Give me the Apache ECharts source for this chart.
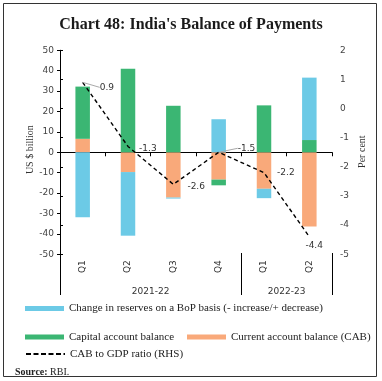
<!DOCTYPE html>
<html>
<head>
<meta charset="utf-8">
<script src="https://cdn.jsdelivr.net/npm/echarts@6/dist/echarts.min.js"></script>
<style>html,body{margin:0;padding:0;background:#fff}#c{width:382px;height:381px}</style>
</head>
<body>
<div id="c"></div>
<script>
// ---- data ----
var quarters = ['Q1', 'Q2', 'Q3', 'Q4', 'Q1', 'Q2'];
var years = ['2021-22', '2022-23'];
var quartersPerYear = [4, 2];
var cab = [6.6, -9.7, -22.2, -13.4, -17.9, -36.4];
var capital = [25.6, 41.0, 22.8, -2.8, 23.0, 6.0];
var reserves = [-31.9, -31.2, -0.5, 16.2, -4.6, 30.6];
var cabGdp = [0.9, -1.3, -2.6, -1.5, -2.2, -4.4];
var leftTicks = [-50, -40, -30, -20, -10, 0, 10, 20, 30, 40, 50];
var rightTicks = [-5, -4, -3, -2, -1, 0, 1, 2];

// ---- label placement (style only) ----
var lineLabelOffsets = [[17, 5], [11, 2], [14, 2], [19, -4], [13, 0], [-4, 9]];
var lineLabelLeader = [true, false, false, true, false, false];

var boundaries = [0], mids = [], qPos = [];
quartersPerYear.forEach(function (n, i) {
  var s = boundaries[boundaries.length - 1];
  mids.push(s + n / 2);
  boundaries.push(s + n);
});
quarters.forEach(function (q, i) { qPos.push(i + 0.5); });

var serif = 'Liberation Serif';
var sans = 'DejaVu Sans';
var names = {
  res: 'Change in reserves on a BoP basis (- increase/+ decrease)',
  cap: 'Capital account balance',
  cab: 'Current account balance (CAB)',
  line: 'CAB to GDP ratio (RHS)'
};
var legendText = {fontFamily: serif, fontSize: 11, color: '#222'};
function lg(data, left, top, extra) {
  var o = {data: data, left: left, top: top, padding: 0, itemWidth: 39, itemHeight: 5, itemGap: 10, textStyle: legendText};
  for (var k in extra) o[k] = extra[k];
  return o;
}

var chart = echarts.init(document.getElementById('c'), null, {renderer: 'canvas'});
chart.setOption({
  animation: false,
  backgroundColor: '#fff',
  title: {
    text: "Chart 48: India's Balance of Payments",
    left: 'center', top: 12,
    textStyle: {fontFamily: serif, fontWeight: 'bold', fontSize: 16, color: '#1a1a1a'}
  },
  graphic: [
    {type: 'rect', shape: {x: 3.5, y: 3.5, width: 373, height: 373}, style: {fill: 'none', stroke: '#333', lineWidth: 1}, silent: true},
    {type: 'text', left: 15, top: 367, style: {
      text: '{b|Source:} RBI.', font: '10px ' + serif, fill: '#222',
      rich: {b: {fontWeight: 'bold', fontFamily: serif, fontSize: 10}}
    }}
  ],
  legend: [
    lg([names.res], 25, 303, {icon: 'rect'}),
    lg([names.cap], 25, 331.5, {icon: 'rect'}),
    lg([names.cab], 187, 331.5, {icon: 'rect'}),
    lg([{name: names.line, itemStyle: {opacity: 0}}], 25, 348.5, {lineStyle: {type: [5, 2.5], width: 2, color: '#000'}})
  ],
  grid: {left: 60, right: 50, top: 50.3, bottom: 88, containLabel: false, outerBoundsMode: 'none'},
  xAxis: [
    {
      type: 'category', data: quarters, boundaryGap: true,
      axisLine: {onZero: true, lineStyle: {color: '#000', width: 1}},
      axisTick: {show: true, length: 4, lineStyle: {color: '#000'}},
      axisLabel: {show: false},
      splitLine: {show: false}
    },
    {
      type: 'value', min: 0, max: boundaries[boundaries.length - 1], position: 'bottom', offset: 2,
      axisLine: {show: false, onZero: false},
      axisTick: {show: true, inside: true, length: 42, customValues: boundaries, lineStyle: {color: '#000'}},
      axisLabel: {show: true, inside: true, margin: -1, customValues: mids, fontFamily: sans, fontSize: 9, color: '#333',
        formatter: function (v) { var i = mids.indexOf(v); return i >= 0 ? years[i] : ''; }},
      splitLine: {show: false}
    },
    {
      type: 'value', min: 0, max: quarters.length, position: 'bottom', offset: 0,
      axisLine: {show: false, onZero: false},
      axisTick: {show: false},
      axisLabel: {show: true, inside: true, rotate: 90, margin: 20, customValues: qPos, fontFamily: sans, fontSize: 9, color: '#333',
        formatter: function (v) { var i = qPos.indexOf(v); return i >= 0 ? quarters[i] : ''; }},
      splitLine: {show: false}
    }
  ],
  yAxis: [
    {
      type: 'value', min: -69, max: 50, position: 'left',
      name: 'US $ billion', nameLocation: 'middle', nameGap: 25, nameRotate: 90, nameMoveOverlap: false,
      nameTextStyle: {fontFamily: serif, fontSize: 10, color: '#333', padding: [0, 0, 0, 44]},
      axisLine: {show: true, lineStyle: {color: '#000'}},
      axisTick: {show: true, length: 3, customValues: leftTicks, lineStyle: {color: '#000'}},
      axisLabel: {customValues: leftTicks, fontFamily: sans, fontSize: 9, color: '#444', margin: 6},
      splitLine: {show: false}
    },
    {
      type: 'value', min: 2 - 119 * 3.5 / 50, max: 2, position: 'right',
      name: 'Per cent', nameLocation: 'middle', nameGap: 25, nameRotate: 90, nameMoveOverlap: false,
      nameTextStyle: {fontFamily: serif, fontSize: 10, color: '#333', padding: [0, 0, 0, 40]},
      axisLine: {show: true, lineStyle: {color: '#000'}},
      axisTick: {show: true, length: 3, customValues: rightTicks, lineStyle: {color: '#000'}},
      axisLabel: {customValues: rightTicks, fontFamily: sans, fontSize: 9, color: '#444', margin: 8},
      splitLine: {show: false}
    }
  ],
  series: [
    {name: names.cab, type: 'bar', stack: 'bop', data: cab, barWidth: 14.5, itemStyle: {color: '#F9A97A'}},
    {name: names.cap, type: 'bar', stack: 'bop', data: capital, barWidth: 14.5, itemStyle: {color: '#3BB673'}},
    {name: names.res, type: 'bar', stack: 'bop', data: reserves, barWidth: 14.5, itemStyle: {color: '#6CCAE6'}},
    {
      name: names.line, type: 'line', yAxisIndex: 1, data: cabGdp.map(function (v, i) {
        return {value: v, labelLine: {show: lineLabelLeader[i]}};
      }),
      symbol: 'circle', symbolSize: 0.1, showSymbol: true,
      itemStyle: {color: '#000'},
      lineStyle: {color: '#000', width: 1.4, type: [4, 3]},
      label: {show: true, position: 'right', distance: 0, align: 'left', verticalAlign: 'middle',
        fontFamily: sans, fontSize: 9, color: '#333',
        formatter: function (p) { return p.value.toFixed(1); }},
      labelLine: {show: false, lineStyle: {color: '#aaa', width: 1}},
      labelLayout: function (p) {
        var o = lineLabelOffsets[p.dataIndex];
        return {dx: o[0], dy: o[1]};
      },
      z: 5
    }
  ]
});
</script>
</body>
</html>
